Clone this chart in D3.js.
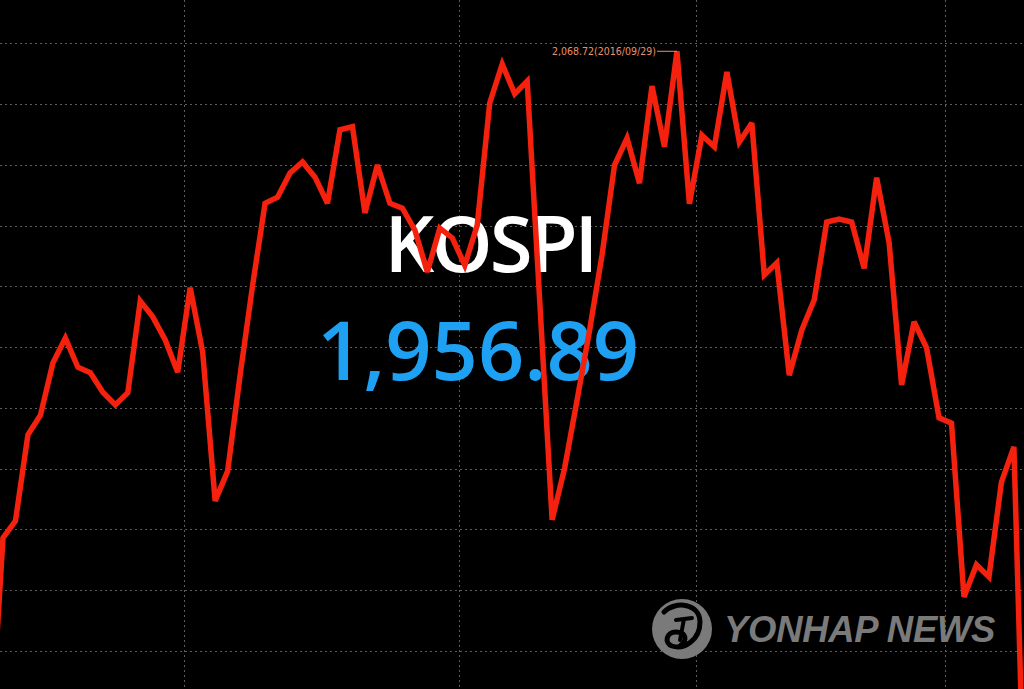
<!DOCTYPE html>
<html>
<head>
<meta charset="utf-8">
<script src="https://cdn.jsdelivr.net/npm/d3@7"></script>
<style>
  html, body { margin: 0; padding: 0; background: #000; overflow: hidden; }
</style>
</head>
<body>
<div class="diagram-canvas"></div>
<script>
// trading days, 2016 (KRX)
let dates = [
  "07/08", "07/11", "07/12", "07/13", "07/14", "07/15", "07/18", "07/19", "07/20", "07/21", "07/22",
  "07/25", "07/26", "07/27", "07/28", "07/29",
  "08/01", "08/02", "08/03", "08/04", "08/05", "08/08", "08/09", "08/10", "08/11", "08/12",
  "08/16", "08/17", "08/18", "08/19", "08/22", "08/23", "08/24", "08/25", "08/26", "08/29", "08/30", "08/31",
  "09/01", "09/02", "09/05", "09/06", "09/07", "09/08", "09/09", "09/12", "09/13",
  "09/19", "09/20", "09/21", "09/22", "09/23", "09/26", "09/27", "09/28", "09/29", "09/30",
  "10/04", "10/05", "10/06", "10/07", "10/10", "10/11", "10/12", "10/13", "10/14",
  "10/17", "10/18", "10/19", "10/20", "10/21", "10/24", "10/25", "10/26", "10/27", "10/28", "10/31",
  "11/01", "11/02", "11/03", "11/04", "11/07", "11/08", "11/09"
];

let kospi = [
  1955.0, 1988.6, 1991.4, 2005.6, 2008.8, 2017.4, 2021.5, 2016.7, 2015.8, 2012.6, 2010.5,
  2012.5, 2027.6, 2025.0, 2021.2, 2015.9,
  2029.8, 2019.2, 1994.7, 1999.6, 2015.4, 2030.2, 2043.7, 2044.7, 2048.7, 2050.5,
  2048.0, 2043.7, 2055.8, 2056.3, 2042.1, 2050.0, 2043.7, 2042.9, 2039.3, 2032.4, 2039.6, 2038.0,
  2033.5, 2040.1, 2060.2, 2066.6, 2061.7, 2063.8, 2027.8, 1991.6, 2000.1,
  2011.3, 2022.8, 2035.2, 2050.0, 2054.4, 2047.0, 2063.0, 2053.0, 2068.72, 2043.6,
  2054.9, 2053.0, 2065.3, 2053.8, 2056.9, 2031.9, 2033.9, 2015.4, 2022.8,
  2027.8, 2040.6, 2041.1, 2040.6, 2033.0, 2047.9, 2037.2, 2013.8, 2024.2, 2019.9, 2008.4,
  2007.5, 1978.9, 1984.2, 1982.2, 1997.8, 2003.6, 1931.0
];

let monthStarts = ["08/01", "09/01", "10/04", "11/01"];
let gridValues = [1970, 1980, 1990, 2000, 2010, 2020, 2030, 2040, 2050, 2060, 2070];

let peakLabel = "2,068.72(2016/09/29)";
let title = "KOSPI";
let current = "1,956.89";

let width = 1024,
  height = 689;

let xScale = d3
  .scalePoint()
  .domain(dates)
  .range([-9.5, 1026.4]);

let yScale = d3
  .scaleLinear()
  .domain([1963.74, 2077.16])
  .range([height, 0]);

let svg = d3
  .select(".diagram-canvas")
  .append("svg")
  .attr("width", width)
  .attr("height", height)
  .style("display", "block")
  .style("background", "#000");

// grid
let grid = svg.append("g").attr("id", "grid");

grid
  .selectAll("line.h")
  .data(gridValues)
  .enter()
  .append("line")
  .attr("class", "h")
  .attr("x1", 0)
  .attr("x2", width)
  .attr("y1", (d) => Math.round(yScale(d)) + 0.5)
  .attr("y2", (d) => Math.round(yScale(d)) + 0.5)
  .attr("stroke", "#5c5c5c")
  .attr("stroke-width", 1)
  .attr("stroke-dasharray", "2,3");

grid
  .selectAll("line.v")
  .data(monthStarts)
  .enter()
  .append("line")
  .attr("class", "v")
  .attr("x1", (d) => Math.round(xScale(d) - xScale.step() / 2) + 0.5)
  .attr("x2", (d) => Math.round(xScale(d) - xScale.step() / 2) + 0.5)
  .attr("y1", 0)
  .attr("y2", height)
  .attr("stroke", "#5c5c5c")
  .attr("stroke-width", 1)
  .attr("stroke-dasharray", "2,3");

// titles
svg
  .append("text")
  .attr("x", 490)
  .attr("y", 272)
  .attr("text-anchor", "middle")
  .attr("fill", "#ffffff")
  .style("font-family", "'Open Sans', 'Noto Sans', sans-serif")
  .style("font-weight", "600")
  .style("font-size", "78px")
  .style("letter-spacing", "-3px")
  .text(title);

svg
  .append("text")
  .attr("x", 478)
  .attr("y", 380)
  .attr("text-anchor", "middle")
  .attr("fill", "#1ea1f2")
  .style("font-family", "'Open Sans', 'Noto Sans', sans-serif")
  .style("font-weight", "600")
  .style("font-size", "81px")
  .text(current);

// watermark
let mark = svg.append("g").attr("id", "watermark");

mark
  .append("circle")
  .attr("cx", 682)
  .attr("cy", 629)
  .attr("r", 30)
  .attr("fill", "#7a7a7a");

mark
  .append("path")
  .attr(
    "d",
    "M664,612 C676,600 700,604 700,622 C700,640 684,650 672,646 C664,643 666,632 676,632 C686,632 688,640 680,646"
  )
  .attr("fill", "none")
  .attr("stroke", "#000")
  .attr("stroke-width", 5)
  .attr("stroke-linecap", "round");

mark
  .append("path")
  .attr("d", "M676,620 L692,618 M684,619 L680,640")
  .attr("fill", "none")
  .attr("stroke", "#000")
  .attr("stroke-width", 4)
  .attr("stroke-linecap", "round");

mark
  .append("text")
  .attr("x", 724)
  .attr("y", 642)
  .attr("fill", "#7a7a7a")
  .style("font-family", "'Liberation Sans', Arial, sans-serif")
  .style("font-weight", "bold")
  .style("font-style", "italic")
  .style("font-size", "36.5px")
  .style("letter-spacing", "-0.3px")
  .text("YONHAP NEWS");

// index line
let line = d3
  .line()
  .x((d, i) => xScale(dates[i]))
  .y((d) => yScale(d));

svg
  .append("path")
  .datum(kospi)
  .attr("d", line)
  .attr("fill", "none")
  .attr("stroke", "#f4210f")
  .attr("stroke-width", 5.5)
  .attr("stroke-linejoin", "miter")
  .attr("stroke-miterlimit", 3);

// peak annotation
let peakIdx = kospi.indexOf(d3.max(kospi));
let px = xScale(dates[peakIdx]),
  py = yScale(kospi[peakIdx]);

svg
  .append("line")
  .attr("x1", px - 20)
  .attr("x2", px)
  .attr("y1", py)
  .attr("y2", py)
  .attr("stroke", "#e8906c")
  .attr("stroke-width", 1);

svg
  .append("text")
  .attr("x", px - 21)
  .attr("y", py + 4)
  .attr("text-anchor", "end")
  .attr("fill", "#e8906c")
  .style("font-family", "'Liberation Sans Narrow', 'DejaVu Sans Condensed', sans-serif")
  .style("font-size", "10.5px")
  .text(peakLabel);
</script>
</body>
</html>
